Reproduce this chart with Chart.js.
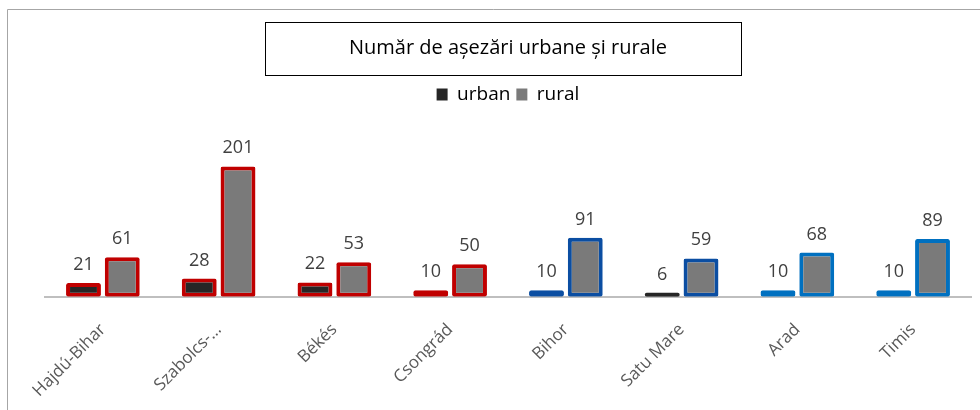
<!DOCTYPE html>
<html>
<head>
<meta charset="utf-8">
<script src="https://cdn.jsdelivr.net/npm/chart.js@4"></script>
<style>
  html, body { margin: 0; padding: 0; background: #fff; }
  #wrap { width: 980px; height: 410px; position: relative; }
</style>
</head>
<body>
<div id="wrap"><canvas id="c"></canvas></div>
<script>
// Data
const counties = ['Hajdú-Bihar', 'Szabolcs-…', 'Békés', 'Csongrád', 'Bihor', 'Satu Mare', 'Arad', 'Timis'];
const urban = [21, 28, 22, 10, 10, 6, 10, 10];
const rural = [61, 201, 53, 50, 91, 59, 68, 89];
const outline = ['#c00000', '#c00000', '#c00000', '#c00000', '#0b4ea2', '#0b4ea2', '#0070c0', '#0070c0'];
const urbanOutline = ['#c00000', '#c00000', '#c00000', '#c00000', '#0b4ea2', '#404040', '#0070c0', '#0070c0'];

const FONT = '"Open Sans", "Noto Sans", sans-serif';

// Chart frame (left + top edge) and box round the title
const framePlugin = {
    id: 'frame',
    beforeDraw(chart) {
        const ctx = chart.ctx;
        ctx.save();
        ctx.strokeStyle = '#a6a6a6';
        ctx.lineWidth = 1;
        ctx.beginPath();
        ctx.moveTo(7.5, 410);
        ctx.lineTo(7.5, 9.5);
        ctx.lineTo(980, 9.5);
        ctx.stroke();

        const tb = chart.titleBlock;
        if (tb) {
            const cx = (tb.left + tb.right) / 2 - 5;
            ctx.strokeStyle = '#000';
            ctx.strokeRect(Math.round(cx - 238) + 0.5, tb.top + 22.5, 476, 53);
        }
        ctx.restore();
    }
};

// Value labels above each bar
const valueLabels = {
    id: 'valueLabels',
    afterDatasetsDraw(chart) {
        const ctx = chart.ctx;
        ctx.save();
        ctx.font = '18px ' + FONT;
        ctx.fillStyle = '#404040';
        ctx.textAlign = 'center';
        ctx.textBaseline = 'alphabetic';
        chart.data.datasets.forEach((ds, di) => {
            chart.getDatasetMeta(di).data.forEach((bar, i) => {
                ctx.fillText(String(ds.data[i]), bar.x, bar.y - 13);
            });
        });
        ctx.restore();
    }
};

new Chart(document.getElementById('c'), {
    type: 'bar',
    data: {
        labels: counties,
        datasets: [
            {
                label: 'urban',
                data: urban,
                backgroundColor: '#262626',
                borderColor: urbanOutline,
                borderWidth: urban.map(v => v < 8 ? 0 : 4),
                borderRadius: 2,
                borderSkipped: false,
                barPercentage: 0.9,
                categoryPercentage: 0.67
            },
            {
                label: 'rural',
                data: rural,
                backgroundColor: '#7a7a7a',
                borderColor: outline,
                borderWidth: 4,
                borderRadius: 2,
                borderSkipped: false,
                barPercentage: 0.9,
                categoryPercentage: 0.67
            }
        ]
    },
    options: {
        responsive: true,
        maintainAspectRatio: false,
        animation: false,
        plugins: {
            title: {
                display: true,
                text: 'Număr de așezări urbane și rurale',
                color: '#000',
                font: { family: FONT, size: 20, weight: 'normal' },
                padding: { top: 36, bottom: 19 }
            },
            legend: {
                display: true,
                labels: {
                    color: '#404040',
                    font: { family: FONT, size: 19 },
                    boxWidth: 11,
                    boxHeight: 12,
                    padding: 6,
                    generateLabels: (chart) => chart.data.datasets.map((ds, i) => ({
                        text: ds.label,
                        fillStyle: ds.backgroundColor,
                        strokeStyle: ds.backgroundColor,
                        lineWidth: 0,
                        datasetIndex: i
                    }))
                }
            },
            tooltip: { enabled: false }
        },
        scales: {
            x: {
                grid: { display: false },
                border: { display: true, color: '#bfbfbf', width: 2 },
                ticks: {
                    color: '#595959',
                    font: { family: FONT, size: 17 },
                    minRotation: 45,
                    maxRotation: 45,
                    padding: 15,
                    autoSkip: false
                }
            },
            y: {
                display: false,
                min: 0,
                max: 282
            }
        },
        layout: { padding: { left: 45, right: 9, top: 0, bottom: -6 } }
    },
    plugins: [framePlugin, valueLabels]
});
</script>
</body>
</html>
